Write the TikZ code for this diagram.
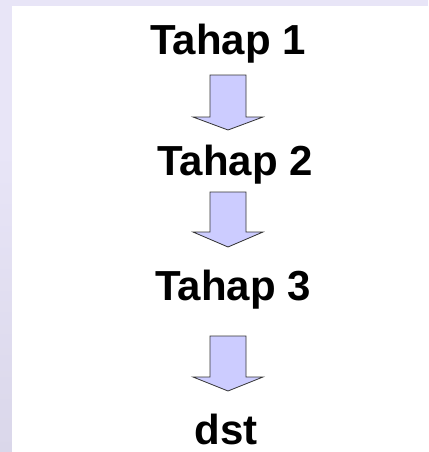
\documentclass[tikz,border=0pt]{standalone}
\usepackage{fontspec}
\setmainfont{Liberation Sans}
\definecolor{bgl}{HTML}{E8E5F7}
\definecolor{bgd}{HTML}{DAD7EA}
\definecolor{arrfill}{HTML}{CCCCFF}
\begin{document}
\begin{tikzpicture}[x=1pt,y=-1pt,
  lbl/.style={anchor=base,inner sep=0pt,font=\fontsize{42}{42}\selectfont\bfseries},
  blockarrow/.style={fill=arrfill,draw=black!80,line width=0.8pt,line join=miter}]
\useasboundingbox (0,0) rectangle (428,452);
\fill[bgl] (0,0) rectangle (428,452);
\shade[top color=bgl,bottom color=bgd] (0,150) rectangle (12,452);
\fill[white] (12,6) rectangle (428,452);
\node[lbl] (t1) at (228,55) {Tahap 1};
\node[lbl] (t2) at (235,175) {Tahap 2};
\node[lbl] (t3) at (233,300) {Tahap 3};
\node[lbl] (d) at (226,444) {dst};
\foreach \top/\base/\tip in {75/117/130, 192/232/247, 336/377/391}{
  \draw[blockarrow] (210,\top) -- (246,\top) -- (246,\base) -- (263,\base)
    -- (228,\tip) -- (193,\base) -- (210,\base) -- cycle;
}
\end{tikzpicture}
\end{document}
